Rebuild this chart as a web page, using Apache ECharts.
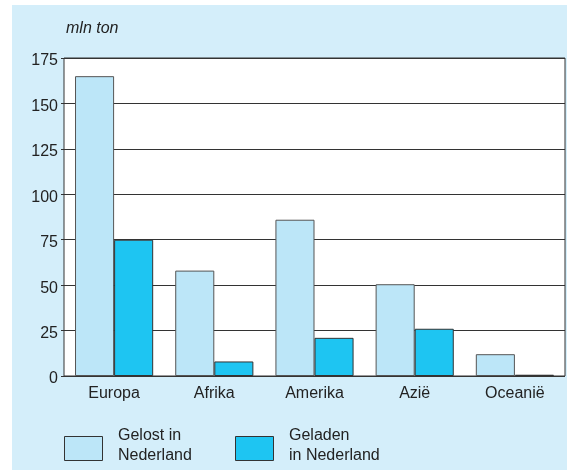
<!DOCTYPE html>
<html>
<head>
<meta charset="utf-8">
<script src="https://cdn.jsdelivr.net/npm/echarts@6/dist/echarts.min.js"></script>
<style>
html,body{margin:0;padding:0;background:#fff;width:567px;height:470px;overflow:hidden;}
#c{position:absolute;left:12px;top:5px;width:555px;height:465px;}
</style>
</head>
<body>
<div id="c"></div>
<script>
const categories = ['Europa', 'Afrika', 'Amerika', 'Azië', 'Oceanië'];
const gelost = [165, 58, 86, 50.5, 12];
const geladen = [75, 8, 21, 26, 0.7];
const yTicks = { min: 0, max: 175, interval: 25 };
const seriesNames = ['Gelost in\nNederland', 'Geladen\nin Nederland'];
const seriesColors = ['#bce6f8', '#1ec5f2'];
const unitLabel = 'mln ton';

const chart = echarts.init(document.getElementById('c'), null, { renderer: 'canvas' });
const font = 'Liberation Sans, Arial, sans-serif';

// legend drawn with graphic elements (div offset: 12, 5)
const legendItems = [];
const legendX = [52, 223];
seriesNames.forEach((name, i) => {
  legendItems.push({
    type: 'rect', left: legendX[i], top: 431,
    shape: { width: 38, height: 24 },
    style: { fill: seriesColors[i], stroke: '#333', lineWidth: 1 }
  });
  legendItems.push({
    type: 'text', left: legendX[i] + 54, top: 421,
    style: { text: name, font: '16px ' + font, fill: '#222', lineHeight: 20 }
  });
});

chart.setOption({
  backgroundColor: '#d4eefa',
  animation: false,
  title: {
    text: unitLabel, left: 49, top: 11,
    textStyle: { fontSize: 16, fontStyle: 'italic', fontWeight: 'normal', color: '#222', fontFamily: font }
  },
  grid: {
    left: 52, right: 2, top: 53, bottom: 94,
    show: true, backgroundColor: '#ffffff', borderColor: '#333', borderWidth: 1
  },
  graphic: legendItems,
  xAxis: {
    type: 'category', data: categories,
    axisLine: { show: false }, axisTick: { show: false },
    axisLabel: { fontSize: 16, color: '#222', fontFamily: font, margin: 10 }
  },
  yAxis: {
    type: 'value', min: yTicks.min, max: yTicks.max, interval: yTicks.interval,
    axisLine: { show: false },
    axisTick: { show: true, length: 3, lineStyle: { color: '#333' } },
    splitLine: { lineStyle: { color: '#333', width: 1 } },
    axisLabel: {
      margin: 6,
      formatter: '{a|{value}}',
      rich: { a: { fontSize: 16, color: '#222', fontFamily: font, padding: [6, 0, 0, 0] } }
    }
  },
  series: [
    { name: seriesNames[0], type: 'bar', data: gelost, barGap: '0%', barCategoryGap: '22%',
      itemStyle: { color: seriesColors[0], borderColor: '#555', borderWidth: 1 } },
    { name: seriesNames[1], type: 'bar', data: geladen, barGap: '0%', barCategoryGap: '22%',
      itemStyle: { color: seriesColors[1], borderColor: '#333', borderWidth: 1 } }
  ]
});
</script>
</body>
</html>
